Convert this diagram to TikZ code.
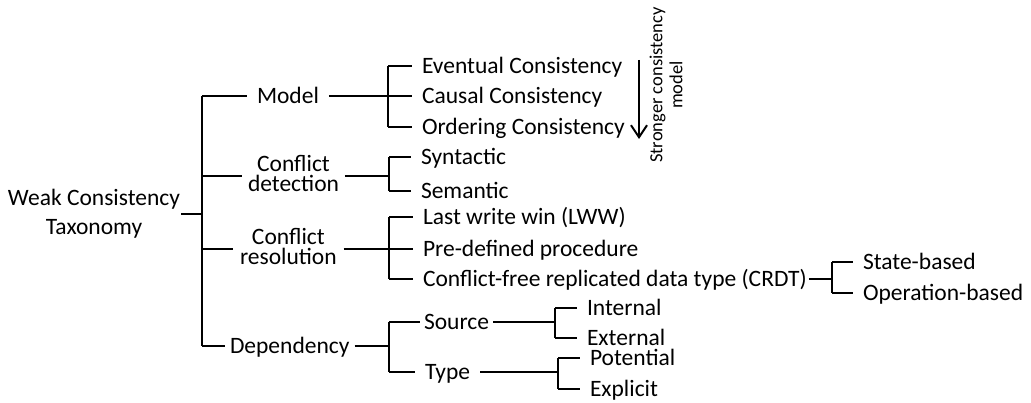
\documentclass[tikz,border=0pt]{standalone}
\usepackage{fontspec}
\setmainfont{Carlito}
\usetikzlibrary{calc, positioning, arrows.meta}

\tikzset{
    leaf/.style={anchor=west, inner xsep=9pt, inner ysep=0pt,
        text height=15pt, text depth=0pt,
        font=\fontsize{23.5}{27}\selectfont},
    twoline/.style={anchor=west, align=center, inner ysep=0pt,
        text depth=5pt, font=\fontsize{23.5}{20}\selectfont},
}

\begin{document}
\begin{tikzpicture}[x=1pt, y=-1pt, line width=2pt]
    \useasboundingbox (0,0) rectangle (1031,403);

    % root of the taxonomy
    \node[align=center, inner sep=0pt, anchor=east,
        font=\fontsize{23.5}{29}\selectfont] (root) at (181,214) {Weak Consistency\\Taxonomy};
    \coordinate (s1) at (202,214);

    % first level
    \node[leaf] (model) at (247,96) {Model};
    \node[twoline, inner xsep=5pt] (detect) at (242,176) {Conflict\\detection};
    \node[twoline, inner xsep=6pt] (resol) at (233,249) {Conflict\\resolution};
    \node[leaf, inner xsep=4pt] (dep) at (225,346) {Dependency};

    \draw (root.east) -- (s1);
    \draw (s1 |- model) -- (s1 |- dep);
    \draw (s1 |- model) -- (model.west);
    \draw (s1 |- detect) -- (detect.west);
    \draw (s1 |- resol) -- (resol.west);
    \draw (s1 |- dep) -- (dep.west);

    % consistency models
    \coordinate (m) at (388,96);
    \node[leaf] (ev) at (412,66) {Eventual Consistency};
    \node[leaf] (ca) at (412,96) {Causal Consistency};
    \node[leaf] (ord) at (412,127) {Ordering Consistency};
    \draw (model.east) -- (m);
    \draw (m |- ev) -- (m |- ord);
    \draw (m |- ev) -- (ev.west);
    \draw (m |- ca) -- (ca.west);
    \draw (m |- ord) -- (ord.west);

    % arrow with its label
    \coordinate (atop) at (639,60);
    \coordinate (abot) at (639,139);
    \draw[-{Straight Barb[length=12pt, width=16pt]}] (atop) -- (abot);
    \node[rotate=90, align=center, inner sep=0pt,
        font=\fontsize{18.5}{20}\selectfont] (stronger) at (666,85) {Stronger consistency\\model};

    % conflict detection
    \coordinate (d) at (389,176);
    \node[leaf] (syn) at (411,157) {Syntactic};
    \node[leaf] (sem) at (411,191) {Semantic};
    \draw (detect.east) -- (d);
    \draw (d |- syn) -- (d |- sem);
    \draw (d |- syn) -- (syn.west);
    \draw (d |- sem) -- (sem.west);

    % conflict resolution
    \coordinate (r) at (389,249);
    \node[leaf] (lww) at (413,217) {Last write win (LWW)};
    \node[leaf] (pre) at (413,249) {Pre-defined procedure};
    \node[leaf] (crdt) at (413,279) {Conflict-free replicated data type (CRDT)};
    \draw (resol.east) -- (r);
    \draw (r |- lww) -- (r |- crdt);
    \draw (r |- lww) -- (lww.west);
    \draw (r |- pre) -- (pre.west);
    \draw (r |- crdt) -- (crdt.west);

    % CRDT kinds
    \coordinate (c) at (832,279);
    \node[leaf] (state) at (853,262) {State-based};
    \node[leaf] (op) at (853,293) {Operation-based};
    \draw ([xshift=-8pt]crdt.east) -- (c);
    \draw (c |- state) -- (c |- op);
    \draw (c |- state) -- (state.west);
    \draw (c |- op) -- (op.west);

    % dependency
    \coordinate (dp) at (389,346);
    \node[leaf, inner xsep=3pt] (source) at (420,322) {Source};
    \node[leaf] (type) at (415,372) {Type};
    \draw (dep.east) -- (dp);
    \draw (dp |- source) -- (dp |- type);
    \draw (dp |- source) -- (source.west);
    \draw (dp |- type) -- (type.west);

    \coordinate (so) at (555,322);
    \node[leaf] (int) at (577,308) {Internal};
    \node[leaf] (ext) at (577,338) {External};
    \draw (source.east) -- (so);
    \draw (so |- int) -- (so |- ext);
    \draw (so |- int) -- (int.west);
    \draw (so |- ext) -- (ext.west);

    \coordinate (ty) at (558,372);
    \node[leaf] (pot) at (580,358) {Potential};
    \node[leaf] (expl) at (580,389) {Explicit};
    \draw (type.east) -- (ty);
    \draw (ty |- pot) -- (ty |- expl);
    \draw (ty |- pot) -- (pot.west);
    \draw (ty |- expl) -- (expl.west);
\end{tikzpicture}
\end{document}
